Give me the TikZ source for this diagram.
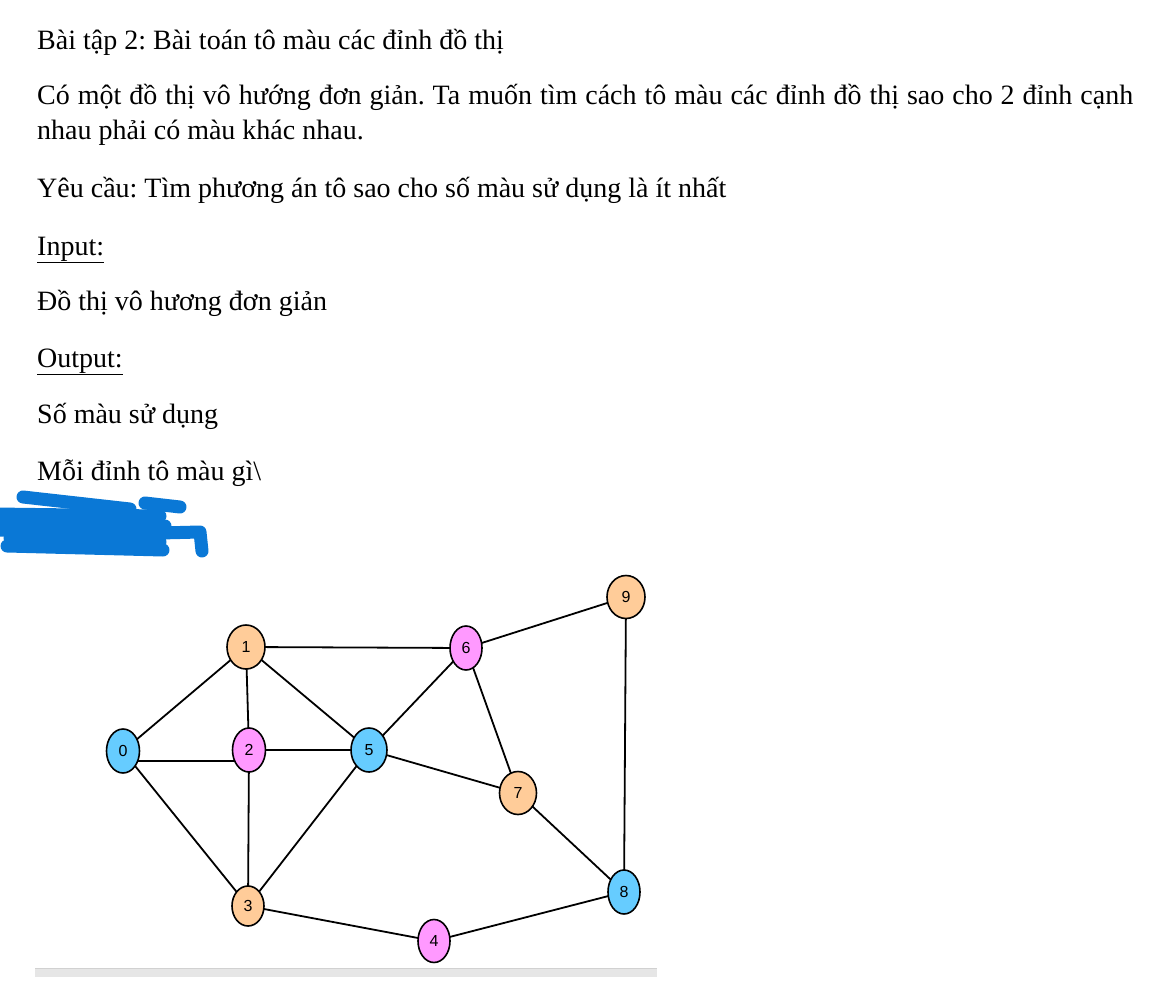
\documentclass[tikz,border=0pt]{standalone}
\usepackage{fontspec}
\usetikzlibrary{shapes.geometric}
\setmainfont{Liberation Serif}
\newfontfamily\arial{Liberation Sans}
\definecolor{cor}{HTML}{FFCC99}
\definecolor{cpk}{HTML}{FF99FF}
\definecolor{cbl}{HTML}{66CCFF}
\definecolor{scr}{HTML}{0A78D6}
\definecolor{barg}{HTML}{E6E6E6}
\frenchspacing
\begin{document}
\begin{tikzpicture}[x=1pt,y=-1pt,
  txt/.style={anchor=base west,inner sep=0pt,font=\frenchspacing\fontsize{28}{32}\selectfont},
  vtx/.style={ellipse,draw=black,line width=1.6pt,inner sep=0pt,font=\arial\fontsize{16}{16}\selectfont},
  edge/.style={line width=1.8pt,black},
  scrib/.style={line width=13pt,scr,line cap=round,line join=round}]
\useasboundingbox (0,0) rectangle (1165,995);
\fill[white] (0,0) rectangle (1165,995);
\node[txt] (t1) at (37,50) {Bài tập 2: Bài toán tô màu các đỉnh đồ thị};
\node[txt] (t2) at (37,105) {\makebox[1096pt][s]{Có một đồ thị vô hướng đơn giản. Ta muốn tìm cách tô màu các đỉnh đồ thị sao cho 2 đỉnh cạnh}};
\node[txt] (t3) at (37,140) {nhau phải có màu khác nhau.};
\node[txt] (t4) at (37,198) {Yêu cầu: Tìm phương án tô sao cho số màu sử dụng là ít nhất};
\node[txt] (t5) at (37,255) {\underline{Input:}};
\node[txt] (t6) at (37,310) {Đồ thị vô hương đơn giản};
\node[txt] (t7) at (37,367) {\underline{Output:}};
\node[txt] (t8) at (37,423) {Số màu sử dụng};
\node[txt] (t9) at (37,480) {Mỗi đỉnh tô màu gì\textbackslash};
% scribble
\draw[scrib] (23,497) -- (130,509);
\draw[scrib] (145,503) -- (180,507);
\draw[scrib] (-6,514) -- (160,516);
\draw[scrib] (-6,522) -- (165,526);
\draw[scrib] (-6,530) -- (160,534);
\draw[scrib] (10,538) -- (160,542);
\draw[scrib] (7,546) -- (163,550);
\draw[scrib] (160,533) -- (200,532) -- (202,551);
% edges
\coordinate (c0) at (123,751);
\coordinate (c1) at (246,647);
\coordinate (c2) at (249,750);
\coordinate (c3) at (248,906);
\coordinate (c4) at (434,941);
\coordinate (c5) at (369,750);
\coordinate (c6) at (466,648);
\coordinate (c7) at (518,793);
\coordinate (c8) at (624,892);
\coordinate (c9) at (626,597);
\draw[edge] (c0) -- (c1);
\draw[edge] ([yshift=-10pt]c0) -- ([yshift=-11pt]c2);
\draw[edge] (c0) -- (c3);
\draw[edge] (c1) -- (c2);
\draw[edge] (c1) -- (c5);
\draw[edge] (c1) -- (c6);
\draw[edge] (c2) -- (c5);
\draw[edge] (c2) -- (c3);
\draw[edge] (c3) -- (c5);
\draw[edge] (c3) -- (c4);
\draw[edge] (c4) -- (c8);
\draw[edge] (c5) -- (c6);
\draw[edge] (c5) -- (c7);
\draw[edge] (c6) -- (c7);
\draw[edge] (c6) -- (c9);
\draw[edge] (c9) -- (c8);
\draw[edge] (c7) -- (c8);
% nodes
\node[vtx,fill=cbl,minimum width=33pt,minimum height=44pt] (n0) at (c0) {0};
\node[vtx,fill=cor,minimum width=38pt,minimum height=44pt] (n1) at (c1) {1};
\node[vtx,fill=cpk,minimum width=33pt,minimum height=44pt] (n2) at (c2) {2};
\node[vtx,fill=cor,minimum width=32pt,minimum height=40pt] (n3) at (c3) {3};
\node[vtx,fill=cpk,minimum width=32pt,minimum height=43pt] (n4) at (c4) {4};
\node[vtx,fill=cbl,minimum width=36pt,minimum height=44pt] (n5) at (c5) {5};
\node[vtx,fill=cpk,minimum width=32pt,minimum height=44pt] (n6) at (c6) {6};
\node[vtx,fill=cor,minimum width=37pt,minimum height=43pt] (n7) at (c7) {7};
\node[vtx,fill=cbl,minimum width=32pt,minimum height=44pt] (n8) at (c8) {8};
\node[vtx,fill=cor,minimum width=38pt,minimum height=43pt] (n9) at (c9) {9};
% bottom bar
\fill[barg] (35,968) rectangle (657,977);
\draw[black!18,line width=0.8pt] (35,968.5) -- (657,968.5);
\end{tikzpicture}
\end{document}
